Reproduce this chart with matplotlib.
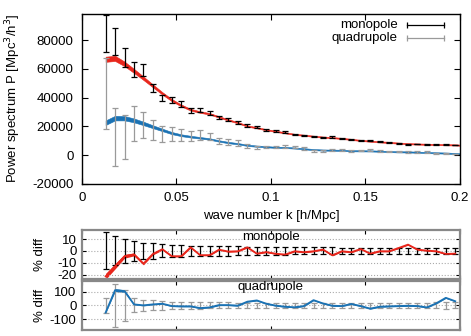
import numpy as np
import matplotlib
matplotlib.use('Agg')
import matplotlib.pyplot as plt

plt.rcParams['font.family'] = ['Liberation Sans', 'DejaVu Sans']
plt.rcParams['font.size'] = 9.5
plt.rcParams['axes.unicode_minus'] = False

# measured bins
k = [0.0125, 0.0175, 0.0225, 0.0275, 0.0325, 0.0375, 0.0425, 0.0475, 0.0525, 0.0575,
     0.0625, 0.0675, 0.0725, 0.0775, 0.0825, 0.0875, 0.0925, 0.0975, 0.1025, 0.1075,
     0.1125, 0.1175, 0.1225, 0.1275, 0.1325, 0.1375, 0.1425, 0.1475, 0.1525, 0.1575,
     0.1625, 0.1675, 0.1725, 0.1775, 0.1825, 0.1875, 0.1925, 0.1975]
P0_data = [84600, 79000, 67700, 59900, 59000, 46500, 39700, 38500, 35600, 31100,
           31400, 29500, 26050, 24660, 22800, 20600, 19550, 17680, 16700, 16100,
           14540, 13950, 13240, 12460, 12670, 11740, 11120, 10140, 10030, 9330,
           8930, 8200, 7600, 7720, 7620, 7470, 7500, 7270]
P0_err = [12800, 9500, 6700, 5200, 4200, 2900, 2000, 1950, 2000, 1500,
          1150, 1500, 1150, 950, 900, 800, 700, 600, 550, 500,
          480, 450, 430, 400, 380, 360, 340, 320, 300, 280,
          260, 240, 220, 210, 200, 190, 185, 180]
P2_data = [42900, 12600, 12800, 22000, 21200, 17600, 14900, 14900, 14200, 13600,
           14000, 13000, 9800, 9000, 8500, 6100, 5300, 5700, 5500, 6000,
           5800, 4750, 2900, 3200, 3600, 3600, 2800, 3200, 3950, 3100,
           2750, 2450, 2350, 2200, 2200, 1430, 970, 880]
P2_err = [25000, 20200, 15300, 12200, 9100, 7100, 5600, 5000, 4300, 3400,
          3400, 2600, 2300, 2000, 1750, 1400, 1150, 900, 800, 1150,
          700, 1000, 800, 700, 700, 650, 550, 600, 700, 550,
          500, 480, 470, 440, 440, 320, 230, 200]

# model curves (centre and half width of band)
k_th = k + [0.2]
P0_th = [66700, 67300, 63500, 58600, 53500, 48200, 43000, 38300, 34600, 31600,
         30000, 28800, 26600, 24500, 22600, 20300, 19100, 17700, 16600, 15600,
         14500, 13900, 13200, 12600, 12200, 11700, 11000, 10300, 9800, 9300,
         8900, 8400, 8000, 7800, 7600, 7450, 7300, 7150, 7000]
P0_hw = [1800, 1800, 1600, 1400, 1200, 1000, 850, 750, 650, 600,
         550, 520, 500, 480, 460, 450, 440, 430, 420, 410,
         400, 400, 400, 400, 400, 400, 400, 400, 400, 400,
         400, 400, 400, 400, 400, 400, 400, 400, 400]
P2_th = [22600, 25800, 25700, 24200, 22100, 19800, 17600, 15400, 13900, 12900,
         12100, 11300, 9900, 8800, 8000, 6900, 6300, 5900, 5500, 5400,
         5000, 4500, 3900, 3600, 3500, 3400, 3100, 3050, 3000, 2800,
         2550, 2350, 2300, 2100, 1850, 1650, 1500, 1150, 950]
P2_hw = [1600, 1600, 1500, 1350, 1200, 1000, 850, 750, 650, 600,
         550, 520, 500, 480, 460, 450, 440, 430, 420, 410,
         400, 400, 400, 400, 400, 400, 400, 400, 400, 400,
         400, 400, 400, 400, 400, 400, 400, 400, 400]

# % diff panels
res0 = [-21.5, -13, -4.5, -3, -10.8, -2.6, 1.4, -4.5, -4.5, 3,
        -3.6, -3.6, 1, -0.6, -0.3, 3, -2.3, -1, -2.4, -3.1,
        -0.3, -1.1, -0.3, 1.1, -3.7, -0.3, -1.1, 1.6, -2.3, -0.3,
        -0.3, 2.4, 5.3, 1.1, 0.2, -0.3, -2.6, -2.3]
res0_err = [15.6, 12.2, 10, 8.7, 7, 6.5, 5.5, 5, 5, 4.5,
            4.5, 4.2, 4, 4, 3.8, 3.6, 3.4, 3.3, 3.2, 3.1,
            3, 3, 3, 2.9, 2.9, 2.8, 2.8, 2.8, 2.7, 2.7,
            2.7, 2.6, 2.6, 2.6, 2.5, 2.5, 2.5, 2.5]
res0_hw = [2.5, 2.2, 1.6, 1.2, 1.0, 0.8, 0.7, 0.6, 0.6, 0.5,
           0.5, 0.5, 0.5, 0.5, 0.5, 0.5, 0.5, 0.5, 0.5, 0.5,
           0.5, 0.5, 0.5, 0.5, 0.5, 0.5, 0.5, 0.5, 0.5, 0.5,
           0.5, 0.5, 0.5, 0.5, 0.5, 0.5, 0.5, 0.5]
res2 = [-53, 111, 104, 7, 0, 7, 12, -5, -7, -7,
        -20, -15, 2, 2, -2, 27, 36, 12, -2, -10,
        -14, -5, 38, 14, -3, -5, 10, -5, -24, -10,
        -7, -5, -3, -5, -15, 15, 55, 30]
res2_err = [57, 159, 115, 52, 40, 36, 32, 28, 26, 24,
            24, 22, 22, 22, 20, 20, 20, 20, 20, 20,
            20, 20, 20, 18, 18, 18, 18, 18, 18, 18,
            18, 20, 20, 20, 20, 22, 24, 22]
res2_hw = [3, 11, 10, 4, 4, 4, 4, 4, 4, 4,
           4, 4, 4, 4, 4, 4, 4, 4, 4, 4,
           4, 4, 4, 4, 4, 4, 4, 4, 4, 4,
           4, 4, 4, 4, 4, 4, 4, 4]

red = '#e8261c'
blue = '#1a72b4'
grey = '#9a9a9a'

fig = plt.figure(figsize=(4.71, 3.36), dpi=100)
ax = fig.add_axes([0.1741, 0.4524, 0.8025, 0.5074])
ax1 = fig.add_axes([0.1741, 0.1687, 0.8025, 0.1467])
ax2 = fig.add_axes([0.1741, 0.0179, 0.8025, 0.1467])

P0_th = np.array(P0_th); P0_hw = np.array(P0_hw)
P2_th = np.array(P2_th); P2_hw = np.array(P2_hw)
ax.fill_between(k_th, P0_th - P0_hw, P0_th + P0_hw, color=red, lw=0.4, ec=red)
ax.fill_between(k_th, P2_th - P2_hw, P2_th + P2_hw, color=blue, lw=0.4, ec=blue)
ax.errorbar(k, P2_data, yerr=P2_err, fmt='none', ecolor=grey, elinewidth=0.9,
            capsize=2, capthick=0.9)
ax.errorbar(k, P0_data, yerr=P0_err, fmt='none', ecolor='k', elinewidth=0.9,
            capsize=2, capthick=0.9)
ax.set_xlim(0, 0.2)
ax.set_ylim(-20000, 98500)
ax.set_xticks([0, 0.05, 0.1, 0.15, 0.2])
ax.set_xticklabels(['0', '0.05', '0.1', '0.15', '0.2'])
ax.set_yticks([-20000, 0, 20000, 40000, 60000, 80000])
ax.set_yticklabels(['-20000', '0', '20000', '40000', '60000', '80000'])
ax.tick_params(direction='in', top=True, right=True, length=4, width=0.8, pad=6)
ax.set_xlabel('wave number k [h/Mpc]', labelpad=4)
ax.set_ylabel('Power spectrum P [Mpc$^3$/h$^3$]')
ax.yaxis.set_label_coords(-0.155, 0.5)
for s in ax.spines.values():
    s.set_linewidth(1.0)

# legend drawn by hand, gnuplot style
for yy, lab, c in [(0.933, 'monopole', 'k'), (0.856, 'quadrupole', grey)]:
    ax.text(0.836, yy, lab, transform=ax.transAxes, ha='right', va='center')
    ax.plot([0.860, 0.958], [yy, yy], color=c, lw=0.9, transform=ax.transAxes)
    ax.plot([0.860, 0.958], [yy, yy], color=c, lw=0, marker='|', ms=4, mew=0.9,
            transform=ax.transAxes)

zeros = [0] * len(k)
res0 = np.array(res0); res0_hw = np.array(res0_hw)
res2 = np.array(res2); res2_hw = np.array(res2_hw)

ax1.errorbar(k, zeros, yerr=res0_err, fmt='none', ecolor='k', elinewidth=0.9,
             capsize=2, capthick=0.9)
ax1.fill_between(k, res0 - res0_hw, res0 + res0_hw, color=red, lw=0)
ax1.plot(k, res0, color=red, lw=1.3)
ax1.set_ylim(-24, 17.6)
ax1.set_yticks([-20, -10, 0, 10])
ax1.set_yticklabels(['-20', '-10', '0', '10'])
ax1.text(0.5, 0.985, 'monopole', transform=ax1.transAxes, ha='center', va='top')

ax2.errorbar(k, zeros, yerr=res2_err, fmt='none', ecolor=grey, elinewidth=0.9,
             capsize=2, capthick=0.9)
ax2.fill_between(k, res2 - res2_hw, res2 + res2_hw, color=blue, lw=0)
ax2.plot(k, res2, color=blue, lw=1.3)
ax2.set_ylim(-180, 180)
ax2.set_yticks([-100, 0, 100])
ax2.set_yticklabels(['-100', '0', '100'])
ax2.text(0.5, 0.985, 'quadrupole', transform=ax2.transAxes, ha='center', va='top')

for a in (ax1, ax2):
    a.set_xlim(0, 0.2)
    a.set_xticks([0, 0.05, 0.1, 0.15, 0.2])
    a.set_xticklabels([])
    a.grid(axis='y', color='#aaaaaa', ls=':', lw=0.8)
    a.tick_params(direction='in', right=True, top=True, length=3, width=0.8, pad=4)
    a.set_ylabel('% diff')
    a.yaxis.set_label_coords(-0.095, 0.5)
    for s in a.spines.values():
        s.set_color('#888888')
        s.set_linewidth(1.6)

fig.savefig('out.png', dpi=100)
